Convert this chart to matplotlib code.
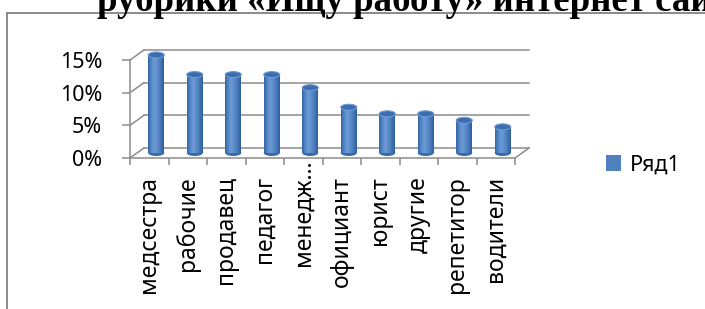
import matplotlib
matplotlib.use("Agg")
import matplotlib.pyplot as plt
import numpy as np
from matplotlib.patches import Ellipse, Patch
from matplotlib.lines import Line2D
from matplotlib.colors import LinearSegmentedColormap
import matplotlib.transforms as mtransforms

categories = ["медсестра", "рабочие", "продавец", "педагог", "менедж…",
              "официант", "юрист", "другие", "репетитор", "водители"]
values = [0.15, 0.12, 0.12, 0.12, 0.10, 0.07, 0.06, 0.06, 0.05, 0.04]
yticks = [0.0, 0.05, 0.10, 0.15]
ytick_labels = ["0%", "5%", "10%", "15%"]
series_name = "Ряд1"
title = "рубрики «Ищу работу» интернет сайта"

W, H = 705, 309
DPI = 100
fig = plt.figure(figsize=(W / DPI, H / DPI), dpi=DPI)

# axes = front plane, pixel geometry
left_px, right_px, base_px, top_px = 130, 515, 158, 60
ax = fig.add_axes([left_px / W, 1 - base_px / H, (right_px - left_px) / W, (base_px - top_px) / H])
n = len(categories)
ax.set_xlim(0, n)
ax.set_ylim(0, 0.15)

grid_col = "#8c8c8c"
# depth offsets in data units
px_x = (right_px - left_px) / n
px_y = (base_px - top_px) / 0.15
dx = 14 / px_x
dy = 10 / px_y

for v in yticks:
    ax.plot([dx, n + dx], [v + dy, v + dy], color=grid_col, lw=1.1, clip_on=False, zorder=1)
    ax.plot([0, dx], [v, v + dy], color=grid_col, lw=1.1, clip_on=False, zorder=1)
ax.plot([n, n + dx], [0, dy], color=grid_col, lw=1.1, clip_on=False, zorder=1)

for s in ["top", "right"]:
    ax.spines[s].set_visible(False)
for s in ["left", "bottom"]:
    ax.spines[s].set_color(grid_col)
    ax.spines[s].set_linewidth(1.1)
ax.patch.set_visible(False)

ax.set_yticks(yticks)
ax.set_yticklabels(ytick_labels)
ax.set_xticks(np.arange(n + 1))
ax.set_xticklabels([])
ax.set_xticks(np.arange(n) + 0.5, minor=True)
ax.set_xticklabels(categories, minor=True, rotation=90, va="top", ha="center")
ax.tick_params(axis="y", length=6, width=1.1, color=grid_col, pad=14,
               labelsize=15.5, labelcolor="black")
ax.tick_params(axis="x", which="major", length=5, width=1.1, color=grid_col, direction="out")
ax.tick_params(axis="x", which="minor", length=0, pad=13, labelsize=16.5)

font = ["Noto Sans", "DejaVu Sans"]
for lab in ax.get_yticklabels() + ax.get_xticklabels(minor=True):
    lab.set_fontfamily(font)

# shift the truncated label upward (Excel-style ellipsis)
for lab in ax.get_xticklabels(minor=True):
    if lab.get_text().endswith("…"):
        lab.set_transform(lab.get_transform() + mtransforms.ScaledTranslation(0, 17 / DPI, fig.dpi_scale_trans))

# cylinders
bw = 16 / px_x
eh = 6 / px_y
xs = np.arange(n) + 0.5 + dx / 2
bars = ax.bar(xs, values, width=bw, bottom=dy / 2, color="#4A7EBB", zorder=3, clip_on=False)
cmap = LinearSegmentedColormap.from_list("cyl", ["#3464a2", "#5487c8", "#6d9bd6", "#5a8ccb", "#4677b6", "#2f5e9a"])
grad = np.linspace(0, 1, 64).reshape(1, -1)
for b, x, v in zip(bars, xs, values):
    im = ax.imshow(grad, extent=[x - bw / 2, x + bw / 2, dy / 2, dy / 2 + v], aspect="auto",
                   cmap=cmap, zorder=3.5, clip_on=False)
    im.set_clip_path(b)
    ax.add_patch(Ellipse((x, dy / 2), bw, eh, facecolor="#3a6aa6", edgecolor="none", zorder=2.9, clip_on=False))
    ax.add_patch(Ellipse((x, dy / 2 + v), bw, eh, facecolor="#3b6db0", edgecolor="#6f9bd6",
                         lw=0.8, zorder=4, clip_on=False))
ax.set_xlim(0, n)
ax.set_ylim(0, 0.15)

# chart area frame
fig.add_artist(Line2D([7 / W, 7 / W], [0, 1 - 13 / H], color="#8a8a8a", lw=1.4, transform=fig.transFigure))
fig.add_artist(Line2D([7 / W, 1], [1 - 13 / H, 1 - 13 / H], color="#8a8a8a", lw=1.4, transform=fig.transFigure))

# clipped title
fig.text(97 / W, 1 - 11 / H, title, fontfamily="Liberation Serif", fontweight="bold",
         fontsize=26.6, va="baseline", ha="left", color="black")

# legend
leg = fig.legend(handles=[Patch(facecolor="#4F81BD", edgecolor="none")], labels=[series_name],
                 loc="center left", bbox_to_anchor=(606 / W, 1 - 165 / H), bbox_transform=fig.transFigure,
                 frameon=False, borderpad=0, borderaxespad=0, handlelength=0.7, handleheight=0.7,
                 handletextpad=0.4, prop={"family": font, "size": 15.5})

fig.savefig("out.png", dpi=DPI)
